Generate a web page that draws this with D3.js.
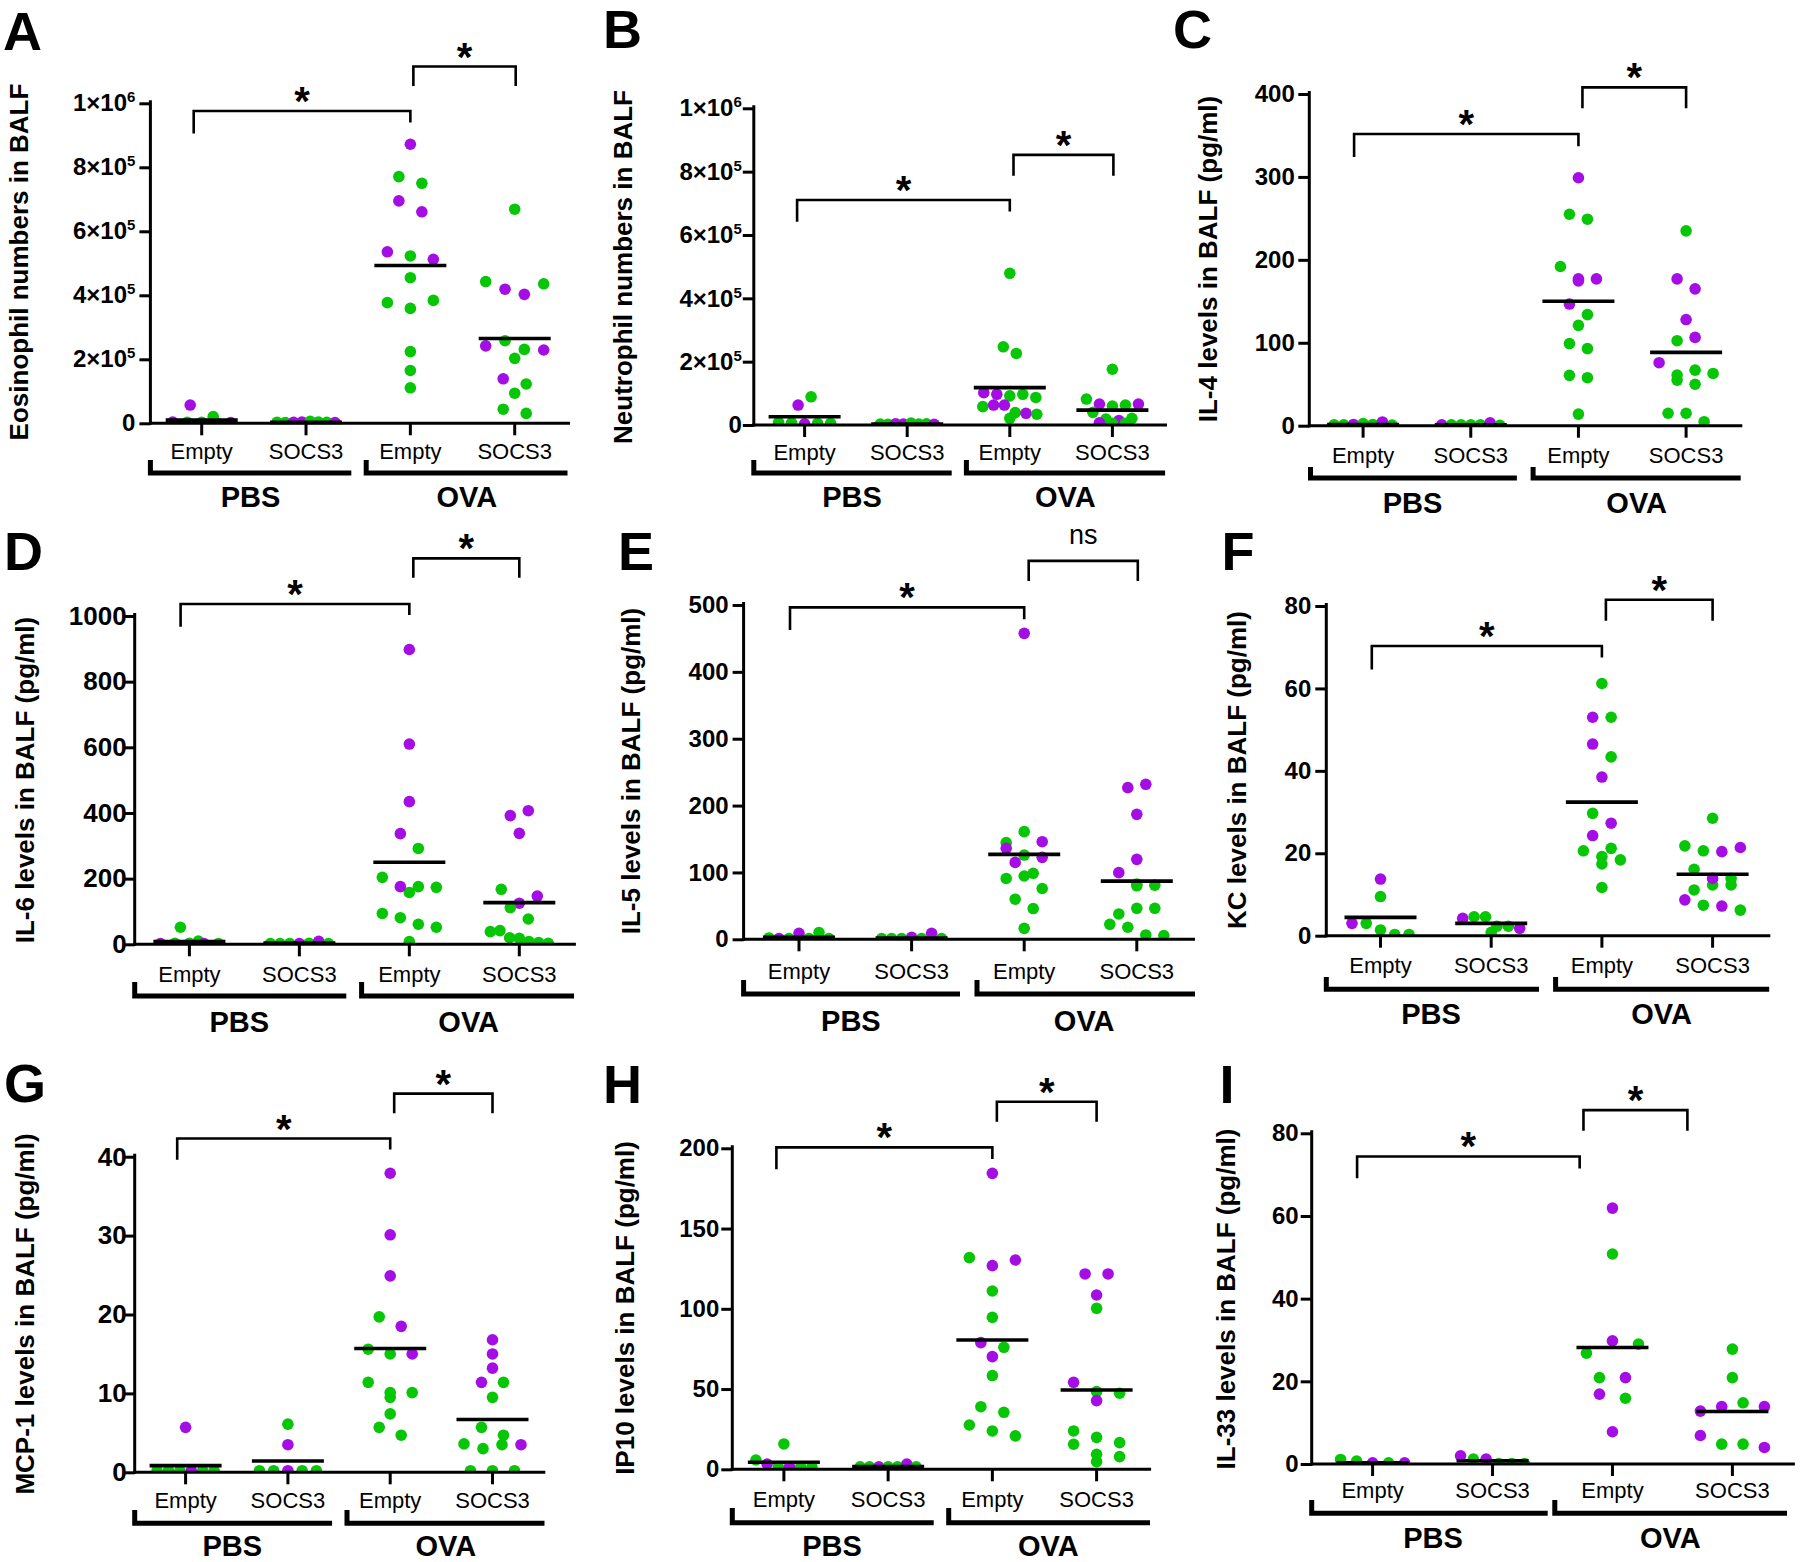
<!DOCTYPE html>
<html>
<head>
<meta charset="UTF-8">
<title>BALF cells and cytokines</title>
<script src="https://cdnjs.cloudflare.com/ajax/libs/d3/7.8.5/d3.min.js"></script>
<style>
  body, html { margin: 0; padding: 0; background: #fff; }
  svg { display: block; font-family: "Liberation Sans", Arial, sans-serif; }
</style>
</head>
<body>
<svg id="chart" width="1800" height="1562"></svg>
<script>
// group order is the same on every panel
var groups = ["PBS Empty", "PBS SOCS3", "OVA Empty", "OVA SOCS3"];
var groupLabels = ["Empty", "SOCS3", "Empty", "SOCS3"];

// values per group, cohort letters g = green dot, p = purple dot
// A - eosinophils
var eosValues = [
  [57000, 21000, 4000, 3000, 3000, 2000, 2000],
  [3000, 2000, 3000, 4000, 6000, 4000, 3000, 2000],
  [872000, 771000, 750000, 695000, 661000, 536000, 523000, 512500, 455000, 377000, 359000, 384000, 224000, 165000, 111000],
  [669000, 443000, 419000, 403000, 436000, 203000, 242000, 258000, 231000, 229000, 139000, 123000, 94000, 44000, 31000]
];
var eosCohorts = ["pgpgggp", "ggppgggp", "pggpppgpggggggg", "ggppggpggppgggg"];
var eosMeans = [10000, 3000, 493000, 265000];

// B - neutrophils
var neuValues = [
  [63000, 89000, 8000, 7000, 4000, 5000, 5000],
  [3000, 2000, 4000, 3000, 6000, 3000, 4000, 2000],
  [479000, 247000, 226000, 102000, 97000, 92000, 97000, 87000, 58000, 63000, 63000, 39000, 37000, 34000, 21000],
  [176000, 82000, 66000, 60000, 63000, 66000, 40000, 19000, 14000, 21000, 7000, 5000, 5000]
];
var neuCohorts = ["pgggpgg", "ggppgggp", "gggppggggppgpgg", "ggpggpggpgpgg"];
var neuMeans = [26000, 3000, 118000, 47000];

// C - IL-4
var il4Values = [
  [1, 1, 1.5, 2.5, 1.5, 4.5, 0.8],
  [1, 1, 1, 1, 1, 3.5, 0.5],
  [299, 255, 249, 192, 177, 174.5, 177, 146.7, 134, 121, 99, 93, 60.7, 57.9, 14],
  [235, 177, 165, 128, 102.5, 106.5, 76, 55, 50, 61, 67, 63, 15, 15, 4.8]
];
var il4Cohorts = ["ggpggpg", "pggggpg", "pgggppppggggggg", "gpppgppgggggggg"];
var il4Means = [1.5, 1, 150, 88.4];

// D - IL-6
var il6Values = [
  [52, 2, 3, 3, 10, 2, 2],
  [2, 2, 2, 2, 3, 9, 2],
  [898, 610, 434.5, 337, 292, 204, 158, 175.6, 175.6, 173.6, 94, 81, 61, 52, 8],
  [392, 407, 338, 167.5, 125, 147, 112, 77, 38.6, 41.6, 20, 18, 8, 5, 3]
];
var il6Cohorts = ["gpgggpg", "gggpgpg", "ppppgggpggggggg", "pppgppggggggggg"];
var il6Means = [8, 4, 250, 127];

// E - IL-5
var il5Values = [
  [2, 1, 1, 9, 1, 10, 1],
  [1, 1, 1, 3, 1, 9, 1],
  [457.6, 144.6, 161, 146, 136, 126, 122.6, 115, 91, 98.7, 94.7, 76, 60, 46, 16.4],
  [226.8, 231.8, 186.9, 119.6, 99.7, 82.7, 81, 80, 37.9, 46.4, 46.4, 22.4, 18, 6.5, 5.5]
];
var il5Cohorts = ["gpgpggg", "gggpgpg", "pggppgppggggggg", "pppppgggggggggg"];
var il5Means = [3, 2, 127, 87];

// F - KC
var kcValues = [
  [13.75, 9.5, 3, 3, 1.4, 0.3, 0.3],
  [4.2, 4.6, 4.6, 2.3, 2.3, 1.8, 0.8],
  [61.2, 53, 53, 46.5, 43.4, 38.5, 29.7, 27.3, 24.3, 20.6, 21.2, 19.2, 18.4, 17.4, 11.7],
  [28.5, 21.8, 20.6, 20.4, 21.4, 16.1, 11.1, 12.3, 13.9, 13.9, 12.3, 8.7, 7.4, 7.2, 6.2]
];
var kcCohorts = ["pgpgggg", "pggggpg", "gpgpgpgppgggggg", "gggppgggpggpgpg"];
var kcMeans = [4.45, 3, 32.4, 14.9];

// G - MCP-1
var mcpValues = [
  [5.7, 0.2, 0.2, 0.2, 0.2, 0.2, 0.2],
  [6.1, 3.5, 0.2, 0.2, 0.2, 0.2, 0.2],
  [37.9, 30.1, 24.9, 19.7, 18.5, 15.6, 15, 15, 11.4, 10.1, 9.5, 10.1, 7.4, 5.7, 4.7],
  [16.8, 15, 13.2, 11.4, 11.4, 9.5, 5.7, 4.7, 3.6, 3.0, 3.5, 3.5, 0.2, 0.2, 0.2]
];
var mcpCohorts = ["pgggpgg", "gpggpgg", "pppgpggpggggggg", "ppppgggggggpggg"];
var mcpMeans = [0.84, 1.44, 15.7, 6.7];

// H - IP10
var ip10Values = [
  [15.8, 5.8, 3.3, 1.5, 1.5, 1.5, 1.5],
  [1.5, 1.5, 1.5, 1.5, 1.5, 3.3, 1.5],
  [184.4, 131.9, 126.9, 130.4, 111.1, 94.7, 78.9, 76, 70.2, 58.4, 39, 35.5, 27.6, 23.9, 20.8],
  [121.7, 121.7, 108.6, 100.3, 54.2, 48.4, 47.4, 42.8, 23.9, 19.9, 16.6, 15.6, 9.3, 7.9, 4.8]
];
var ip10Cohorts = ["ggpgpgg", "ggpggpg", "pgppggpgpgggggg", "pppgpggpggggggg"];
var ip10Means = [4.4, 1.7, 80.6, 49.4];

// I - IL-33
var il33Values = [
  [1.1, 0.7, 0.3, 0.3, 0.3],
  [2.0, 1.2, 1.2, 0.1, 0.1, 0.1],
  [61.9, 50.8, 26.8, 29.8, 29.0, 20.9, 20.9, 16.9, 15.9, 7.8],
  [27.8, 20.9, 12.8, 13.9, 14.8, 13.9, 6.9, 4.8, 4.8, 4.0]
];
var il33Cohorts = ["ggpgp", "pgpggg", "pggpggppgp", "ggppgppggp"];
var il33Means = [0.3, 0.8, 28.2, 12.7];

// tick values
var sciTicks = [0, 200000, 400000, 600000, 800000, 1000000];
var il4Ticks = [0, 100, 200, 300, 400];
var il6Ticks = [0, 200, 400, 600, 800, 1000];
var il5Ticks = [0, 100, 200, 300, 400, 500];
var kcTicks = [0, 20, 40, 60, 80];
var mcpTicks = [0, 10, 20, 30, 40];
var ip10Ticks = [0, 50, 100, 150, 200];
var il33Ticks = [0, 20, 40, 60, 80];

var green = "#06c606", purple = "#a40de4";
var font = "'Liberation Sans', Arial, sans-serif";

// layout of each panel (pixels) + its data
var panels = [
  { letter: "A", lx: 3, ly: 50, title: "Eosinophil numbers in BALF", tx: 19, ty: 262,
    axisX: 150.4, y0: 423.3, yTop: 103.3, max: 1e6, ticks: sciTicks, sci: true, xRight: 570,
    tickFont: 24, tickGap: 15,
    gx: [201.7, 514.7], catY: 459, pbs: [150.4, 351.3], ova: [366.2, 567.5], uTop: 460, uBar: 473,
    grpY: 507, pbsX: 250.6, ovaX: 466.8, spread: 23, maxW: 58, rowGap: 13,
    sig: [{ a: 0, b: 2, dxa: -8, dxb: 0, top: 976000, la: 906000, lb: 940000, label: "*" },
          { a: 2, b: 3, dxa: 3, dxb: 1, top: 1115000, la: 1054000, lb: 1054000, label: "*" }],
    values: eosValues, cohorts: eosCohorts, means: eosMeans },
  { letter: "B", lx: 603, ly: 48, title: "Neutrophil numbers in BALF", tx: 623, ty: 267,
    axisX: 753.8, y0: 425, yTop: 108.3, max: 1e6, ticks: sciTicks, sci: true, xRight: 1167,
    tickFont: 24, tickGap: 12,
    gx: [804.6, 1112.4], catY: 460, pbs: [753.8, 951.7], ova: [966.4, 1165.1], uTop: 460, uBar: 473,
    grpY: 507, pbsX: 852, ovaX: 1065.4, spread: 13, maxW: 54, rowGap: 10,
    sig: [{ a: 0, b: 2, dxa: -7.5, dxb: 0, top: 710500, la: 642000, lb: 674000, label: "*" },
          { a: 2, b: 3, dxa: 3.7, dxb: 1, top: 853000, la: 787000, lb: 787000, label: "*" }],
    values: neuValues, cohorts: neuCohorts, means: neuMeans },
  { letter: "C", lx: 1173, ly: 48, title: "IL-4 levels in BALF (pg/ml)", tx: 1207.7, ty: 259,
    axisX: 1309.3, y0: 425.7, yTop: 94, max: 400, ticks: il4Ticks, xRight: 1742.3,
    tickFont: 24, tickGap: 14.5,
    gx: [1363.1, 1686.1], catY: 463, pbs: [1310.5, 1516.9], ova: [1533.1, 1740.7], uTop: 467, uBar: 478,
    grpY: 513, pbsX: 1412.5, ovaX: 1636.7, spread: 18, maxW: 58, rowGap: 13,
    sig: [{ a: 0, b: 2, dxa: -9, dxb: 0, top: 351.8, la: 324, lb: 337, label: "*" },
          { a: 2, b: 3, dxa: 4, dxb: 0, top: 408, la: 382.7, lb: 382.7, label: "*" }],
    values: il4Values, cohorts: il4Cohorts, means: il4Means },
  { letter: "D", lx: 4, ly: 570, title: "IL-6 levels in BALF (pg/ml)", tx: 24.9, ty: 780,
    axisX: 134.7, y0: 944.3, yTop: 616, max: 1000, ticks: il6Ticks, xRight: 575.9,
    tickFont: 26, tickGap: 8,
    gx: [189.4, 519.3], catY: 981.7, pbs: [134.7, 346.3], ova: [361.6, 574], uTop: 982, uBar: 996,
    grpY: 1031.7, pbsX: 239.2, ovaX: 468.7, spread: 18, maxW: 58, rowGap: 15,
    sig: [{ a: 0, b: 2, dxa: -8.8, dxb: 0, top: 1036.5, la: 967.5, lb: 1003, label: "*" },
          { a: 2, b: 3, dxa: 4, dxb: 0, top: 1175.6, la: 1116.8, lb: 1116.8, label: "*" }],
    values: il6Values, cohorts: il6Cohorts, means: il6Means },
  { letter: "E", lx: 618, ly: 570, title: "IL-5 levels in BALF (pg/ml)", tx: 630.7, ty: 771,
    axisX: 743.6, y0: 939.3, yTop: 605, max: 500, ticks: il5Ticks, xRight: 1195,
    tickFont: 24, tickGap: 15,
    gx: [799, 1136.8], catY: 979, pbs: [743.6, 960], ova: [977, 1195], uTop: 980, uBar: 994,
    grpY: 1030.7, pbsX: 850.9, ovaX: 1084.2, spread: 18, maxW: 60, rowGap: 13,
    sig: [{ a: 0, b: 2, dxa: -9, dxb: 0, top: 496.5, la: 462.6, lb: 478.6, label: "*" },
          { a: 2, b: 3, dxa: 4.5, dxb: 1, top: 566, la: 536, lb: 536, label: "ns" }],
    values: il5Values, cohorts: il5Cohorts, means: il5Means },
  { letter: "F", lx: 1221.5, ly: 570, title: "KC levels in BALF (pg/ml)", tx: 1237.3, ty: 770,
    axisX: 1326.3, y0: 935.7, yTop: 606, max: 80, ticks: kcTicks, xRight: 1770.3,
    tickFont: 24, tickGap: 15,
    gx: [1380.5, 1712.6], catY: 973.3, pbs: [1326.3, 1539], ova: [1555.6, 1769.2], uTop: 977, uBar: 989.3,
    grpY: 1024, pbsX: 1431.1, ovaX: 1661.6, spread: 18.5, maxW: 57, rowGap: 13,
    sig: [{ a: 0, b: 2, dxa: -8.7, dxb: 0, top: 70.3, la: 64.6, lb: 67.5, label: "*" },
          { a: 2, b: 3, dxa: 4, dxb: 0, top: 81.5, la: 76.4, lb: 76.4, label: "*" }],
    values: kcValues, cohorts: kcCohorts, means: kcMeans },
  { letter: "G", lx: 4, ly: 1101.7, title: "MCP-1 levels in BALF (pg/ml)", tx: 24.9, ty: 1314,
    axisX: 134.7, y0: 1472.3, yTop: 1156.7, max: 40, ticks: mcpTicks, xRight: 545.3,
    tickFont: 26, tickGap: 8,
    gx: [185.6, 492.5], catY: 1508.3, pbs: [134.7, 332.1], ova: [347, 544.5], uTop: 1510, uBar: 1523.3,
    grpY: 1556, pbsX: 232.3, ovaX: 445.8, spread: 22, maxW: 57, rowGap: 13,
    sig: [{ a: 0, b: 2, dxa: -8.4, dxb: 0, top: 42.3, la: 39.6, lb: 40.9, label: "*" },
          { a: 2, b: 3, dxa: 4, dxb: 0, top: 48, la: 45.5, lb: 45.5, label: "*" }],
    values: mcpValues, cohorts: mcpCohorts, means: mcpMeans },
  { letter: "H", lx: 603, ly: 1103.3, title: "IP10 levels in BALF (pg/ml)", tx: 625.1, ty: 1308,
    axisX: 732.3, y0: 1469.3, yTop: 1148.3, max: 200, ticks: ip10Ticks, xRight: 1151.1,
    tickFont: 24, tickGap: 13,
    gx: [783.9, 1096.6], catY: 1506.7, pbs: [732.3, 933.7], ova: [948.7, 1150], uTop: 1508, uBar: 1522.7,
    grpY: 1556, pbsX: 832, ovaX: 1048.4, spread: 23, maxW: 56, rowGap: 13,
    sig: [{ a: 0, b: 2, dxa: -7.5, dxb: 0, top: 200.6, la: 187, lb: 193.4, label: "*" },
          { a: 2, b: 3, dxa: 4.5, dxb: 0, top: 229, la: 216.6, lb: 216.6, label: "*" }],
    values: ip10Values, cohorts: ip10Cohorts, means: ip10Means },
  { letter: "I", lx: 1219.5, ly: 1102.7, title: "IL-33 levels in BALF (pg/ml)", tx: 1225.5, ty: 1299,
    axisX: 1311.7, y0: 1464, yTop: 1133.3, max: 80, ticks: il33Ticks, xRight: 1794.9,
    tickFont: 24, tickGap: 13,
    gx: [1372.6, 1732.4], catY: 1498.3, pbs: [1311.7, 1547.7], ova: [1554.8, 1787], uTop: 1500, uBar: 1513.3,
    grpY: 1548.3, pbsX: 1433.1, ovaX: 1670.3, spread: 26, maxW: 64, rowGap: 13,
    sig: [{ a: 0, b: 2, dxa: -15.5, dxb: -32.8, top: 74.4, la: 69.1, lb: 71.5, label: "*" },
          { a: 2, b: 3, dxa: -29, dxb: -45, top: 85.6, la: 80.6, lb: 80.6, label: "*" }],
    values: il33Values, cohorts: il33Cohorts, means: il33Means }
];

var svg = d3.select("#chart");

// spread points of one column into rows, like a scatter dot plot
function swarm(vals, cohorts, y, spread, maxW, rowGap) {
  var pts = vals.map(function (v, i) { return { v: v, c: cohorts[i], i: i, py: y(v), dx: 0 }; });
  var sorted = pts.slice().sort(function (a, b) { return a.py - b.py || a.i - b.i; });
  var rows = [], row = null;
  sorted.forEach(function (p) {
    if (!row || p.py - row[0].py > rowGap) { row = [p]; rows.push(row); }
    else row.push(p);
  });
  rows.forEach(function (r) {
    r.sort(function (a, b) { return a.i - b.i; });
    var n = r.length, s = n > 1 ? Math.min(spread, maxW / (n - 1)) : 0;
    r.forEach(function (p, k) { p.dx = (k - (n - 1) / 2) * s; });
  });
  return pts;
}

function drawPanel(p, k) {
  var g = svg.append("g");
  var y = d3.scaleLinear().domain([0, p.max]).range([p.y0, p.yTop]);
  var x = d3.scalePoint().domain(groups).range(p.gx);

  // dots, clipped at the x axis
  var clipId = "clip" + k;
  g.append("clipPath").attr("id", clipId).append("rect")
    .attr("x", p.axisX).attr("y", p.yTop - 80)
    .attr("width", p.xRight - p.axisX).attr("height", p.y0 - p.yTop + 80);
  var dots = g.append("g").attr("clip-path", "url(#" + clipId + ")");
  groups.forEach(function (grp, gi) {
    var pts = swarm(p.values[gi], p.cohorts[gi], y, p.spread, p.maxW, p.rowGap);
    dots.selectAll(null).data(pts).enter().append("circle")
      .attr("cx", function (d) { return x(grp) + d.dx; })
      .attr("cy", function (d) { return d.py; })
      .attr("r", 5.8)
      .attr("fill", function (d) { return d.c === "p" ? purple : green; });
  });

  // mean lines
  g.selectAll(null).data(p.means).enter().append("line")
    .attr("x1", function (d, i) { return x(groups[i]) - 36; })
    .attr("x2", function (d, i) { return x(groups[i]) + 36; })
    .attr("y1", function (d) { return y(d); })
    .attr("y2", function (d) { return y(d); })
    .attr("stroke", "#000").attr("stroke-width", 3.6);

  // y axis
  var yAxis = d3.axisLeft(y).tickValues(p.ticks).tickSize(11).tickSizeOuter(0)
    .tickPadding(p.tickGap - 11).tickFormat(d3.format("d"));
  var yg = g.append("g").attr("transform", "translate(" + p.axisX + ",0)").call(yAxis);
  yg.select(".domain").remove();
  yg.attr("font-family", font).attr("font-size", p.tickFont).attr("font-weight", "bold");
  yg.selectAll(".tick line").attr("stroke", "#000").attr("stroke-width", 3);
  yg.selectAll(".tick text").attr("fill", "#000");
  if (p.sci) {
    yg.selectAll(".tick text").each(function (d) {
      if (d === 0) return;
      var e = Math.floor(Math.log10(d) + 1e-9), m = Math.round(d / Math.pow(10, e));
      var t = d3.select(this).text(null);
      t.append("tspan").text(m + "\u00d710");
      t.append("tspan").attr("font-size", 15).attr("dy", "-0.6em").text(e);
    });
  }
  g.append("line")
    .attr("x1", p.axisX).attr("x2", p.axisX)
    .attr("y1", p.yTop - 3).attr("y2", p.y0 + 1.5)
    .attr("stroke", "#000").attr("stroke-width", 3);

  // x axis with group ticks
  g.append("line")
    .attr("x1", p.axisX - 1.5).attr("x2", p.xRight)
    .attr("y1", p.y0).attr("y2", p.y0)
    .attr("stroke", "#000").attr("stroke-width", 3);
  g.selectAll(null).data(groups).enter().append("line")
    .attr("x1", function (d) { return x(d); }).attr("x2", function (d) { return x(d); })
    .attr("y1", p.y0).attr("y2", p.y0 + 12)
    .attr("stroke", "#000").attr("stroke-width", 3);
  g.selectAll(null).data(groups).enter().append("text")
    .attr("x", function (d) { return x(d); })
    .attr("y", p.catY)
    .attr("text-anchor", "middle")
    .attr("font-family", font).attr("font-size", 22)
    .text(function (d, i) { return groupLabels[i]; });

  // PBS / OVA underlines
  [p.pbs, p.ova].forEach(function (r) {
    g.append("path")
      .attr("d", "M" + r[0] + "," + p.uTop + "V" + p.uBar + "H" + r[1])
      .attr("fill", "none").attr("stroke", "#000").attr("stroke-width", 5);
  });
  g.append("text").attr("x", p.pbsX).attr("y", p.grpY).attr("text-anchor", "middle")
    .attr("font-family", font).attr("font-size", 29).attr("font-weight", "bold").text("PBS");
  g.append("text").attr("x", p.ovaX).attr("y", p.grpY).attr("text-anchor", "middle")
    .attr("font-family", font).attr("font-size", 29).attr("font-weight", "bold").text("OVA");

  // significance brackets
  p.sig.forEach(function (s) {
    var xa = x(groups[s.a]) + s.dxa, xb = x(groups[s.b]) + s.dxb;
    g.append("path")
      .attr("d", "M" + xa + "," + y(s.la) + "V" + y(s.top) + "H" + xb + "V" + y(s.lb))
      .attr("fill", "none").attr("stroke", "#000").attr("stroke-width", 2.6);
    var star = s.label === "*";
    g.append("text")
      .attr("x", (xa + xb) / 2)
      .attr("y", star ? y(s.top) + 4 : y(s.top) - 17)
      .attr("text-anchor", "middle")
      .attr("font-family", font)
      .attr("font-size", star ? 40 : 27)
      .attr("font-weight", star ? "bold" : "normal")
      .text(s.label);
  });

  // y title and panel letter
  g.append("text")
    .attr("transform", "translate(" + p.tx + "," + p.ty + ") rotate(-90)")
    .attr("dy", "0.35em")
    .attr("text-anchor", "middle")
    .attr("font-family", font).attr("font-size", 26).attr("font-weight", "bold")
    .text(p.title);
  g.append("text")
    .attr("x", p.lx).attr("y", p.ly)
    .attr("font-family", font).attr("font-size", 54).attr("font-weight", "bold")
    .text(p.letter);
}

panels.forEach(drawPanel);
</script>
</body>
</html>
